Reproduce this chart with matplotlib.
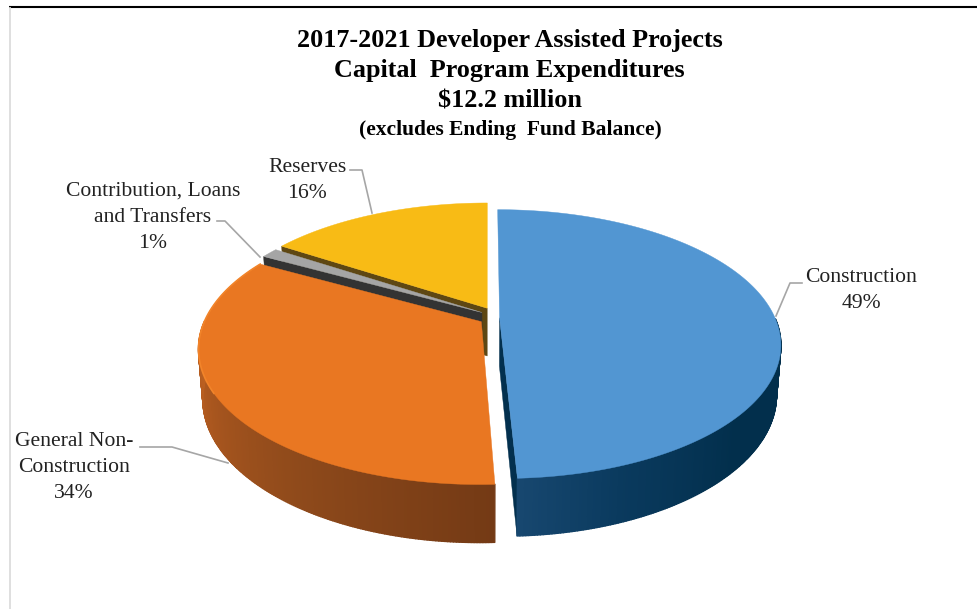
import numpy as np
from matplotlib import pyplot as plt
from matplotlib.colors import to_rgb
from matplotlib.collections import PolyCollection

# data
categories = ["Construction", "General Non-\nConstruction", "Contribution, Loans\nand Transfers", "Reserves"]
shares = [49.3, 33.7, 1.2, 15.8]
title_lines = ["2017-2021 Developer Assisted Projects", "Capital  Program Expenditures", "$12.2 million"]
subtitle = "(excludes Ending  Fund Balance)"

# slice styles, same order as categories
top_colors = ["#5296d2", "#e97722", "#a5a5a5", "#f8bb15"]
face_colors = ["#03304e", "#723915", "#333333", "#5e4713"]
explode = [(0.042, -0.045), (-0.024, -0.075), (-0.022, -0.004), (-0.003, 0.03)]
# which radial end of each slice faces the viewer: 1 clockwise end, 0 start, None hidden
face_end = [1, None, 0, 0]
# wall gradient as (fraction along the slice, colour)
wall_stops = [
    [(0.0, "#022f4c"), (0.75, "#022f4c"), (0.9, "#0a3a5e"), (1.0, "#17476f")],
    [(0.0, "#743a15"), (0.3, "#8f4a1b"), (0.65, "#b55c20"), (1.0, "#d06c20")],
    [(0.0, "#333333"), (1.0, "#333333")],
    [(0.0, "#5e4713"), (1.0, "#5e4713")],
]

# projection of the pie disk to pixels
cx, cy = 488, 312
rx, ry = 273, 127
persp = 0.194
depth = 48
bottom_scale = 0.985


def project(u, v, low=False):
    s = 1.0 / (1.0 + persp * v)
    k = bottom_scale if low else 1.0
    x = cx + rx * u * s * k
    y = cy - ry * v * s * k
    if low:
        y = y + depth * s
    return x, y


def grad(stops, f):
    pos = [p for p, c in stops]
    rgb = np.array([to_rgb(c) for p, c in stops])
    return [np.interp(f, pos, rgb[:, i]) for i in range(3)]


fig = plt.figure(figsize=(9.77, 6.09), dpi=100)
ax = fig.add_axes([0, 0, 1, 1])
ax.set_xlim(0, 977)
ax.set_ylim(609, 0)
ax.axis("off")

# frame left over from the slide
ax.plot([9, 977], [6.5, 6.5], color="black", lw=1.5, solid_capstyle="butt")
ax.plot([9.5, 9.5], [7, 609], color="#d9d9d9", lw=1.2, solid_capstyle="butt")

ends = np.cumsum(shares) / np.sum(shares) * 360.0
starts = np.concatenate([[0.0], ends[:-1]])

# back to front: reserves, contribution, general, construction
for i in [3, 2, 1, 0]:
    a0, a1 = starts[i], ends[i]
    off = explode[i]
    z = i * -3 + 10
    n = int(max(a1 - a0, 4) * 2) + 2
    t = np.radians(np.linspace(a0, a1, n))
    u = np.sin(t) + off[0]
    v = np.cos(t) + off[1]

    # radial face towards the viewer
    if face_end[i] is not None:
        k = -1 if face_end[i] == 1 else 0
        face = [project(off[0], off[1]), project(u[k], v[k]), project(u[k], v[k], True), project(off[0], off[1], True)]
        ax.fill(*zip(*face), color=face_colors[i], lw=0.3, zorder=z)

    # outer wall, front part only
    xt, yt = project(u, v)
    xb, yb = project(u, v, True)
    quads = []
    cols = []
    for j in range(n - 1):
        if np.cos(t[j]) > 0.0:
            continue
        quads.append([(xt[j], yt[j]), (xt[j + 1], yt[j + 1]), (xb[j + 1], yb[j + 1]), (xb[j], yb[j])])
        cols.append(grad(wall_stops[i], j / (n - 2)))
    if quads:
        ax.add_collection(PolyCollection(quads, facecolors=cols, edgecolors=cols, linewidths=1.0, zorder=z))

    # top surface
    px, py = project(np.r_[off[0], u], np.r_[off[1], v])
    ax.fill(px, py, color=top_colors[i], lw=0.3, zorder=z + 1)
    if i == 1:
        rim = np.degrees(t) > 240
        ax.plot(xt[rim], yt[rim], color="#f2842a", lw=1.2, zorder=z + 1.5)

# leader lines
leader_color = "#a6a6a6"
ax.plot([776, 790, 802], [316, 283, 283], color=leader_color, lw=1.2)
ax.plot([372, 362, 350], [213, 170, 170], color=leader_color, lw=1.2)
ax.plot([260, 225, 217], [257, 221, 221], color=leader_color, lw=1.2)
ax.plot([228, 172, 140], [463, 447, 447], color=leader_color, lw=1.2)

serif = "Liberation Serif"
lab = dict(family=serif, fontsize=15.6, color="#222222", ha="center", va="center", linespacing=1.5)
ax.text(861, 290, categories[0] + "\n%.0f%%" % shares[0], **lab)
ax.text(74, 467, categories[1] + "\n%.0f%%" % shares[1], **lab)
ax.text(153, 217, categories[2] + "\n%.0f%%" % shares[2], **lab)
ax.text(307, 180, categories[3] + "\n%.0f%%" % shares[3], **lab)

# title
for txt, y in zip(title_lines, [40, 71, 101]):
    ax.text(509.5, y, txt, family=serif, fontsize=18.8, fontweight="bold", color="black", ha="center", va="center")
ax.text(510, 130, subtitle, family=serif, fontsize=15.5, fontweight="bold", color="black", ha="center", va="center")

fig.savefig("out.png", dpi=100, facecolor="white")
